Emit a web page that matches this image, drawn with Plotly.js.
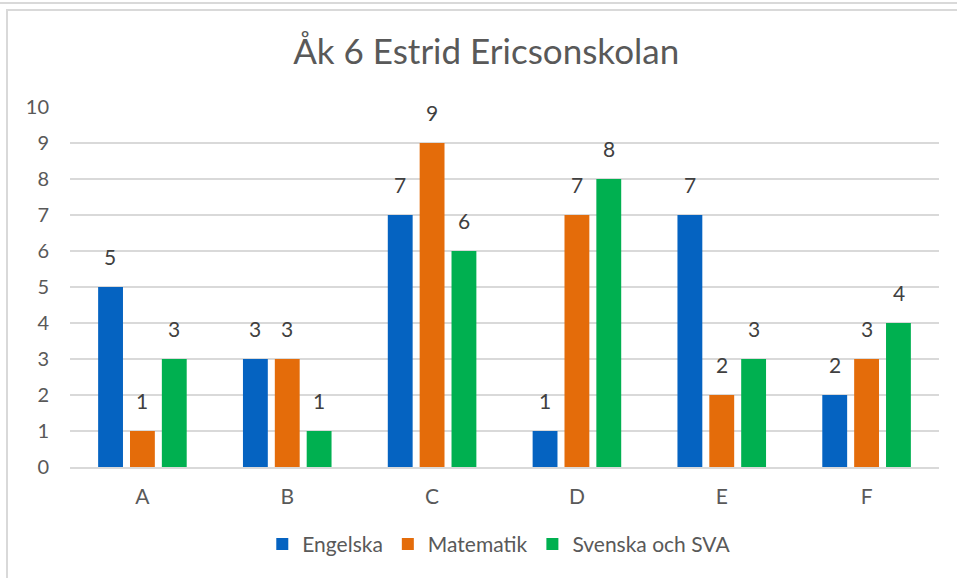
<!DOCTYPE html>
<html>
<head>
<meta charset="utf-8">
<script src="https://cdn.plot.ly/plotly-3.0.1.min.js"></script>
<style>
html,body{margin:0;padding:0;background:#fff;}
#frame{position:absolute;left:0;top:0;width:957px;height:578px;}
#topline{position:absolute;left:0;top:2px;width:957px;height:0;border-top:2px solid #d9d9d9;}
#box{position:absolute;left:6px;top:9px;width:951px;height:569px;border-left:2px solid #d9d9d9;border-top:2px solid #d9d9d9;}
#chart{position:absolute;left:0;top:0;width:957px;height:578px;}
</style>
</head>
<body>
<div id="frame"><div id="topline"></div><div id="box"></div><div id="chart"></div></div>
<script>
const categories = ["A", "B", "C", "D", "E", "F"];
const seriesNames = ["Engelska", "Matematik", "Svenska och SVA"];
const engelska = [5, 3, 7, 1, 7, 2];
const matematik = [1, 3, 9, 7, 2, 3];
const svenska = [3, 1, 6, 8, 3, 4];
const yTicks = [0, 1, 2, 3, 4, 5, 6, 7, 8, 9, 10];

const colors = ["#0563C1", "#E46C0A", "#00B050"];
const font = "Lato, 'Open Sans', sans-serif";
const textColor = "#595959";

const values = [engelska, matematik, svenska];
const traces = values.map((v, i) => ({
  type: "bar",
  name: seriesNames[i],
  x: categories,
  y: v,
  marker: {color: colors[i], line: {width: 0}},
  hoverinfo: "x+y+name"
}));

// data labels placed through the axes (category + value), offset per series slot
const slotShift = [-32, 0, 32];
const annotations = [];
values.forEach((v, i) => {
  v.forEach((val, j) => {
    annotations.push({
      x: categories[j], y: val, xref: "x", yref: "y",
      text: String(val), showarrow: false,
      xshift: slotShift[i], yanchor: "bottom",
      yshift: 16,
      font: {family: font, size: 21, color: "#404040"}
    });
  });
});

const layout = {
  width: 957,
  height: 578,
  paper_bgcolor: "rgba(0,0,0,0)",
  plot_bgcolor: "rgba(0,0,0,0)",
  margin: {l: 70, r: 18, t: 107, b: 111},
  title: {text: "Åk 6 Estrid Ericsonskolan", x: 0.508, xanchor: "center", y: 0.91, yanchor: "middle",
          font: {family: font, size: 35, color: textColor}},
  barmode: "group",
  bargap: 0.34,
  bargroupgap: 0.22,
  annotations: annotations,
  xaxis: {
    type: "category",
    tickfont: {family: font, size: 21, color: textColor},
    showgrid: false,
    showline: true,
    linecolor: "#d9d9d9",
    linewidth: 2,
    ticks: "",
    ticklen: 0,
    ticklabelstandoff: 10,
    automargin: false
  },
  yaxis: {
    range: [0, 10],
    tickvals: yTicks,
    ticktext: yTicks.map(String),
    tickfont: {family: font, size: 20, color: textColor},
    showgrid: true,
    gridcolor: "#d9d9d9",
    gridwidth: 2,
    zeroline: false,
    showline: false,
    ticks: "",
    ticklabelstandoff: 20,
    automargin: false
  },
  legend: {
    orientation: "h",
    x: 0.494, xanchor: "center",
    y: -0.215, yanchor: "middle",
    font: {family: font, size: 21, color: textColor},
    itemwidth: 30,
    traceorder: "normal"
  },
  showlegend: true
};

Plotly.newPlot("chart", traces, layout, {displayModeBar: false, staticPlot: true});
</script>
</body>
</html>
